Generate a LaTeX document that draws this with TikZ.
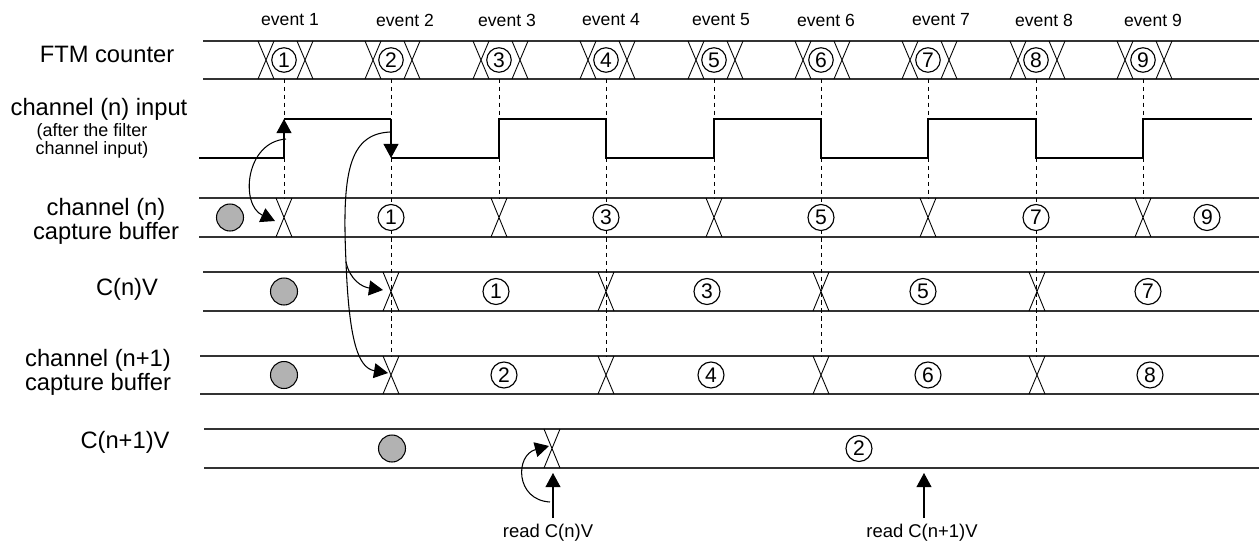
\documentclass[tikz,border=0pt]{standalone}
\usepackage{fontspec}
\setmainfont{Liberation Sans}
\usetikzlibrary{arrows.meta, calc, positioning}

% crossing of two values: x, top, bottom
\newcommand{\xcross}[3]{\draw[line width=0.5pt] (#1-8, #2) -- (#1+8, #3) (#1-8, #3) -- (#1+8, #2);}

\begin{document}
\begin{tikzpicture}[x=0.02cm, y=-0.02cm,
    lbl/.style={font=\fontsize{13.5}{13.6}\selectfont, align=center},
    sml/.style={font=\fontsize{10.2}{8.8}\selectfont, align=center},
    evt/.style={font=\fontsize{10}{12}\selectfont},
    rd/.style={font=\fontsize{10.5}{12}\selectfont},
    row/.style={line width=0.7pt, black!80},
    sig/.style={line width=0.6pt},
    guide/.style={dash pattern=on 2.5pt off 2pt, line width=0.5pt},
    num/.style={circle, draw, fill=white, line width=0.65pt, inner sep=0pt, minimum size=0.52cm, font=\fontsize{12}{12}\selectfont},
    dot/.style={circle, draw, fill=gray!60, line width=0.6pt, inner sep=0pt, minimum size=0.54cm},
    tip/.style={-{Triangle[length=8pt, width=8.5pt]}, line width=0.6pt}]
    \useasboundingbox (0,0) rectangle (1259,542);

    % event labels
    \foreach \k/\x in {1/290, 2/405, 3/507, 4/611, 5/721, 6/826, 7/941, 8/1044, 9/1153} {
        \node[evt] (ev\k) at (\x, 20) {event \k};
    }

    % row labels
    \node[lbl] (ftm) at (107, 54) {FTM counter};
    \node[lbl] (chin) at (99, 109) {channel (n) input};
    \node[sml] (note) at (92, 141) {(after the filter\\channel input)};
    \node[lbl] (capn) at (106, 221) {channel (n)\\capture buffer};
    \node[lbl] (cnv) at (127, 289) {C(n)V};
    \node[lbl] (capm) at (98, 372) {channel (n+1)\\capture buffer};
    \node[lbl] (cmv) at (125, 442) {C(n+1)V};

    % rows
    \foreach \l/\t/\b in {203/41/79, 199/198/237, 203/272/311, 200/356/394, 204/429/468} {
        \draw[row] (\l, \t) -- (1259, \t);
        \draw[row] (\l, \b) -- (1259, \b);
    }

    % guide lines
    \foreach \x/\e in {284/198, 391/356, 499/198, 606/356, 714/198, 821/356, 928/198, 1036/356, 1143/198} {
        \draw[guide] (\x, 79) -- (\x, \e);
    }

    % FTM counter
    \foreach \k/\x in {1/284, 2/391, 3/499, 4/606, 5/714, 6/821, 7/928, 8/1036, 9/1143} {
        \xcross{\x-18}{41}{79}
        \xcross{\x+21}{41}{79}
        \node[num, minimum size=0.49cm] (f\k) at (\x, 60) {\k};
    }

    % channel (n) input
    \coordinate (up1) at (284, 119);
    \coordinate (dn2) at (391, 158);
    \draw[sig] (199, 158) -- (284, 158);
    \draw[sig, tip] (284, 158) -- (up1);
    \draw[sig] (up1) -- (391, 119);
    \draw[sig, tip] (391, 119) -- (dn2);
    \draw[sig] (dn2) -- (499, 158) -- (499, 119) -- (606, 119) -- (606, 158) -- (714, 158) -- (714, 119)
        -- (821, 119) -- (821, 158) -- (928, 158) -- (928, 119) -- (1036, 119) -- (1036, 158)
        -- (1143, 158) -- (1143, 119) -- (1252, 119);

    % channel (n) capture buffer
    \foreach \x in {284, 499, 714, 928, 1143} {\xcross{\x}{198}{237}}
    \foreach \n/\x in {1/391, 3/606, 5/821, 7/1036, 9/1207} {
        \node[num] (cn\n) at (\x, 217.5) {\n};
    }
    \node[dot] (g1) at (230, 217.5) {};

    % C(n)V
    \foreach \x in {391, 606, 821, 1037} {\xcross{\x}{272}{311}}
    \foreach \n/\x in {1/496, 3/707, 5/923, 7/1148} {
        \node[num] (vn\n) at (\x, 291.5) {\n};
    }
    \node[dot] (g2) at (284, 291.5) {};

    % channel (n+1) capture buffer
    \foreach \x in {391, 606, 821, 1037} {\xcross{\x}{356}{394}}
    \foreach \n/\x in {2/504, 4/711, 6/928, 8/1150} {
        \node[num] (cm\n) at (\x, 375) {\n};
    }
    \node[dot] (g3) at (284, 375) {};

    % C(n+1)V
    \xcross{552}{429}{468}
    \node[num] (vm2) at (859, 448.5) {2};
    \node[dot] (g4) at (392, 448.5) {};

    % curved arrows
    \coordinate (sa) at (286, 139);
    \coordinate (ta) at (275, 221);
    \draw[tip] (sa) .. controls (245, 142) and (240, 205) .. (ta);

    \coordinate (sb) at (390, 132);
    \coordinate (split) at (346, 262);
    \coordinate (tb) at (383, 290);
    \coordinate (tc) at (388, 373);
    \draw[line width=0.6pt] (sb) .. controls (348, 134) and (342, 175) .. (split);
    \draw[tip] (split) .. controls (350, 280) and (362, 287) .. (tb);
    \draw[tip] (split) .. controls (349, 340) and (358, 368) .. (tc);

    % read arrows
    \node[rd] (read1) at (548, 533) {read C(n)V};
    \node[rd] (read2) at (922, 533) {read C(n+1)V};
    \coordinate (r1) at (553, 473);
    \coordinate (r2) at (924, 473);
    \draw[tip] (read1.north -| r1) -- (r1);
    \draw[tip] (read2.north -| r2) -- (r2);
    \coordinate (sd) at (550, 502);
    \coordinate (td) at (549, 446);
    \draw[tip] (sd) .. controls (515, 500) and (515, 455) .. (td);
\end{tikzpicture}
\end{document}
